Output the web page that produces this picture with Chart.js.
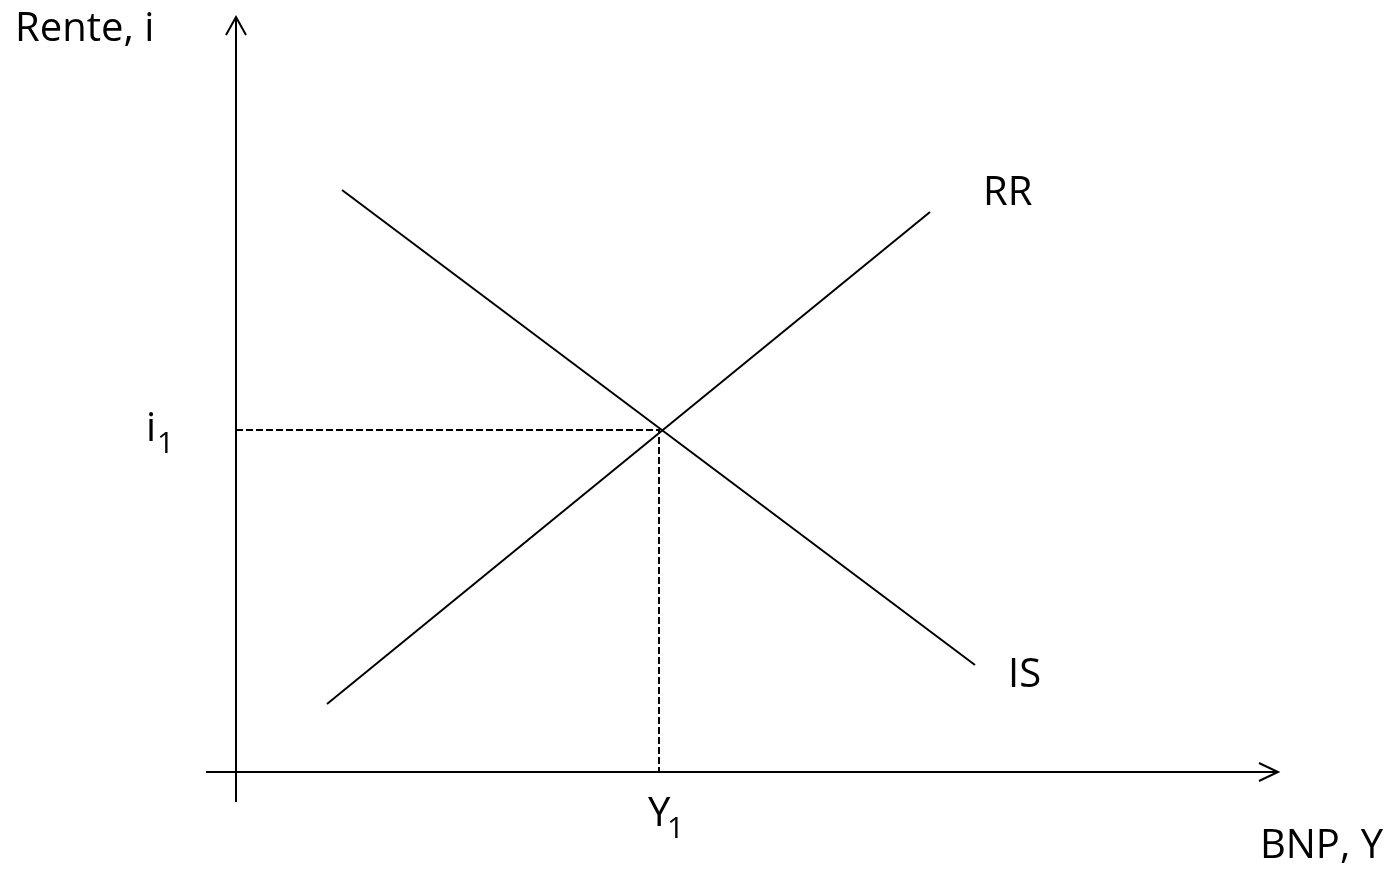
<!DOCTYPE html>
<html>
<head>
<meta charset="utf-8">
<script src="https://cdn.jsdelivr.net/npm/chart.js@4"></script>
<style>
  body { margin: 0; background: #fff; }
  canvas { display: block; }
</style>
</head>
<body>
<canvas id="myChart" width="1396" height="872"></canvas>
<script>
// curves (x = BNP, y = rente), in plot units
var isX = [10.6, 73.9];
var isY = [58.2, 10.7];
var rrX = [9.1, 69.4];
var rrY = [6.8, 56.0];
// equilibrium point
var eqX = 42.3;
var eqY = 34.2;
// axes
var axisXEnd = 104.2;
var axisYEnd = 75.5;

function pts(xs, ys) {
  return xs.map((x, i) => ({ x: x, y: ys[i] }));
}

const black = '#000';
const lineDs = (d, extra) => Object.assign({
  data: d,
  showLine: true,
  borderColor: black,
  borderWidth: 2,
  pointRadius: 0,
  fill: false,
}, extra || {});

// labels plugin
const labels = {
  id: 'labels',
  afterDraw(chart) {
    const c = chart.ctx;
    const sx = chart.scales.x, sy = chart.scales.y;
    const px = v => sx.getPixelForValue(v), py = v => sy.getPixelForValue(v);
    c.save();
    c.fillStyle = black;
    c.textBaseline = 'alphabetic';
    c.font = '40px "Open Sans"';
    c.textAlign = 'left';
    c.fillText('Rente, i', px(-22.1), py(73.1));
    c.fillText('RR', px(74.7), py(56.7));
    c.fillText('IS', px(77.2), py(8.5));
    c.textAlign = 'right';
    c.fillText('BNP, Y', px(114.7), py(-8.6));
    c.textAlign = 'left';
    // i1, Y1
    c.fillText('i', px(-9.0), py(33.1));
    c.fillText('Y', px(41.2), py(-5.4));
    c.font = '30px "Open Sans"';
    c.fillText('1', px(-7.9), py(31.9));
    c.fillText('1', px(43.1), py(-6.6));
    c.restore();
  }
};

const config = {
  type: 'scatter',
  data: {
    datasets: [
      lineDs(pts(isX, isY)),
      lineDs(pts(rrX, rrY)),
      // dashed guides
      lineDs([{ x: 0, y: eqY }, { x: eqX, y: eqY }, { x: eqX, y: 0 }], { borderDash: [7, 3] }),
      // axes
      lineDs([{ x: 0, y: -3.0 }, { x: 0, y: axisYEnd }]),
      lineDs([{ x: -3.0, y: 0 }, { x: axisXEnd, y: 0 }]),
      // arrow heads
      lineDs([{ x: -1.0, y: axisYEnd - 1.8 }, { x: 0, y: axisYEnd }, { x: 1.0, y: axisYEnd - 1.8 }]),
      lineDs([{ x: axisXEnd - 1.9, y: 0.9 }, { x: axisXEnd, y: 0 }, { x: axisXEnd - 1.9, y: -0.9 }]),
    ]
  },
  options: {
    responsive: false,
    animation: false,
    layout: { padding: 0 },
    plugins: { legend: false, tooltip: { enabled: false } },
    scales: {
      x: { type: 'linear', min: -23.6, max: 116.0, display: false },
      y: { type: 'linear', min: -10.0, max: 77.2, display: false },
    },
  },
  plugins: [labels],
};

const myChart = new Chart(document.getElementById('myChart'), config);
</script>
</body>
</html>
